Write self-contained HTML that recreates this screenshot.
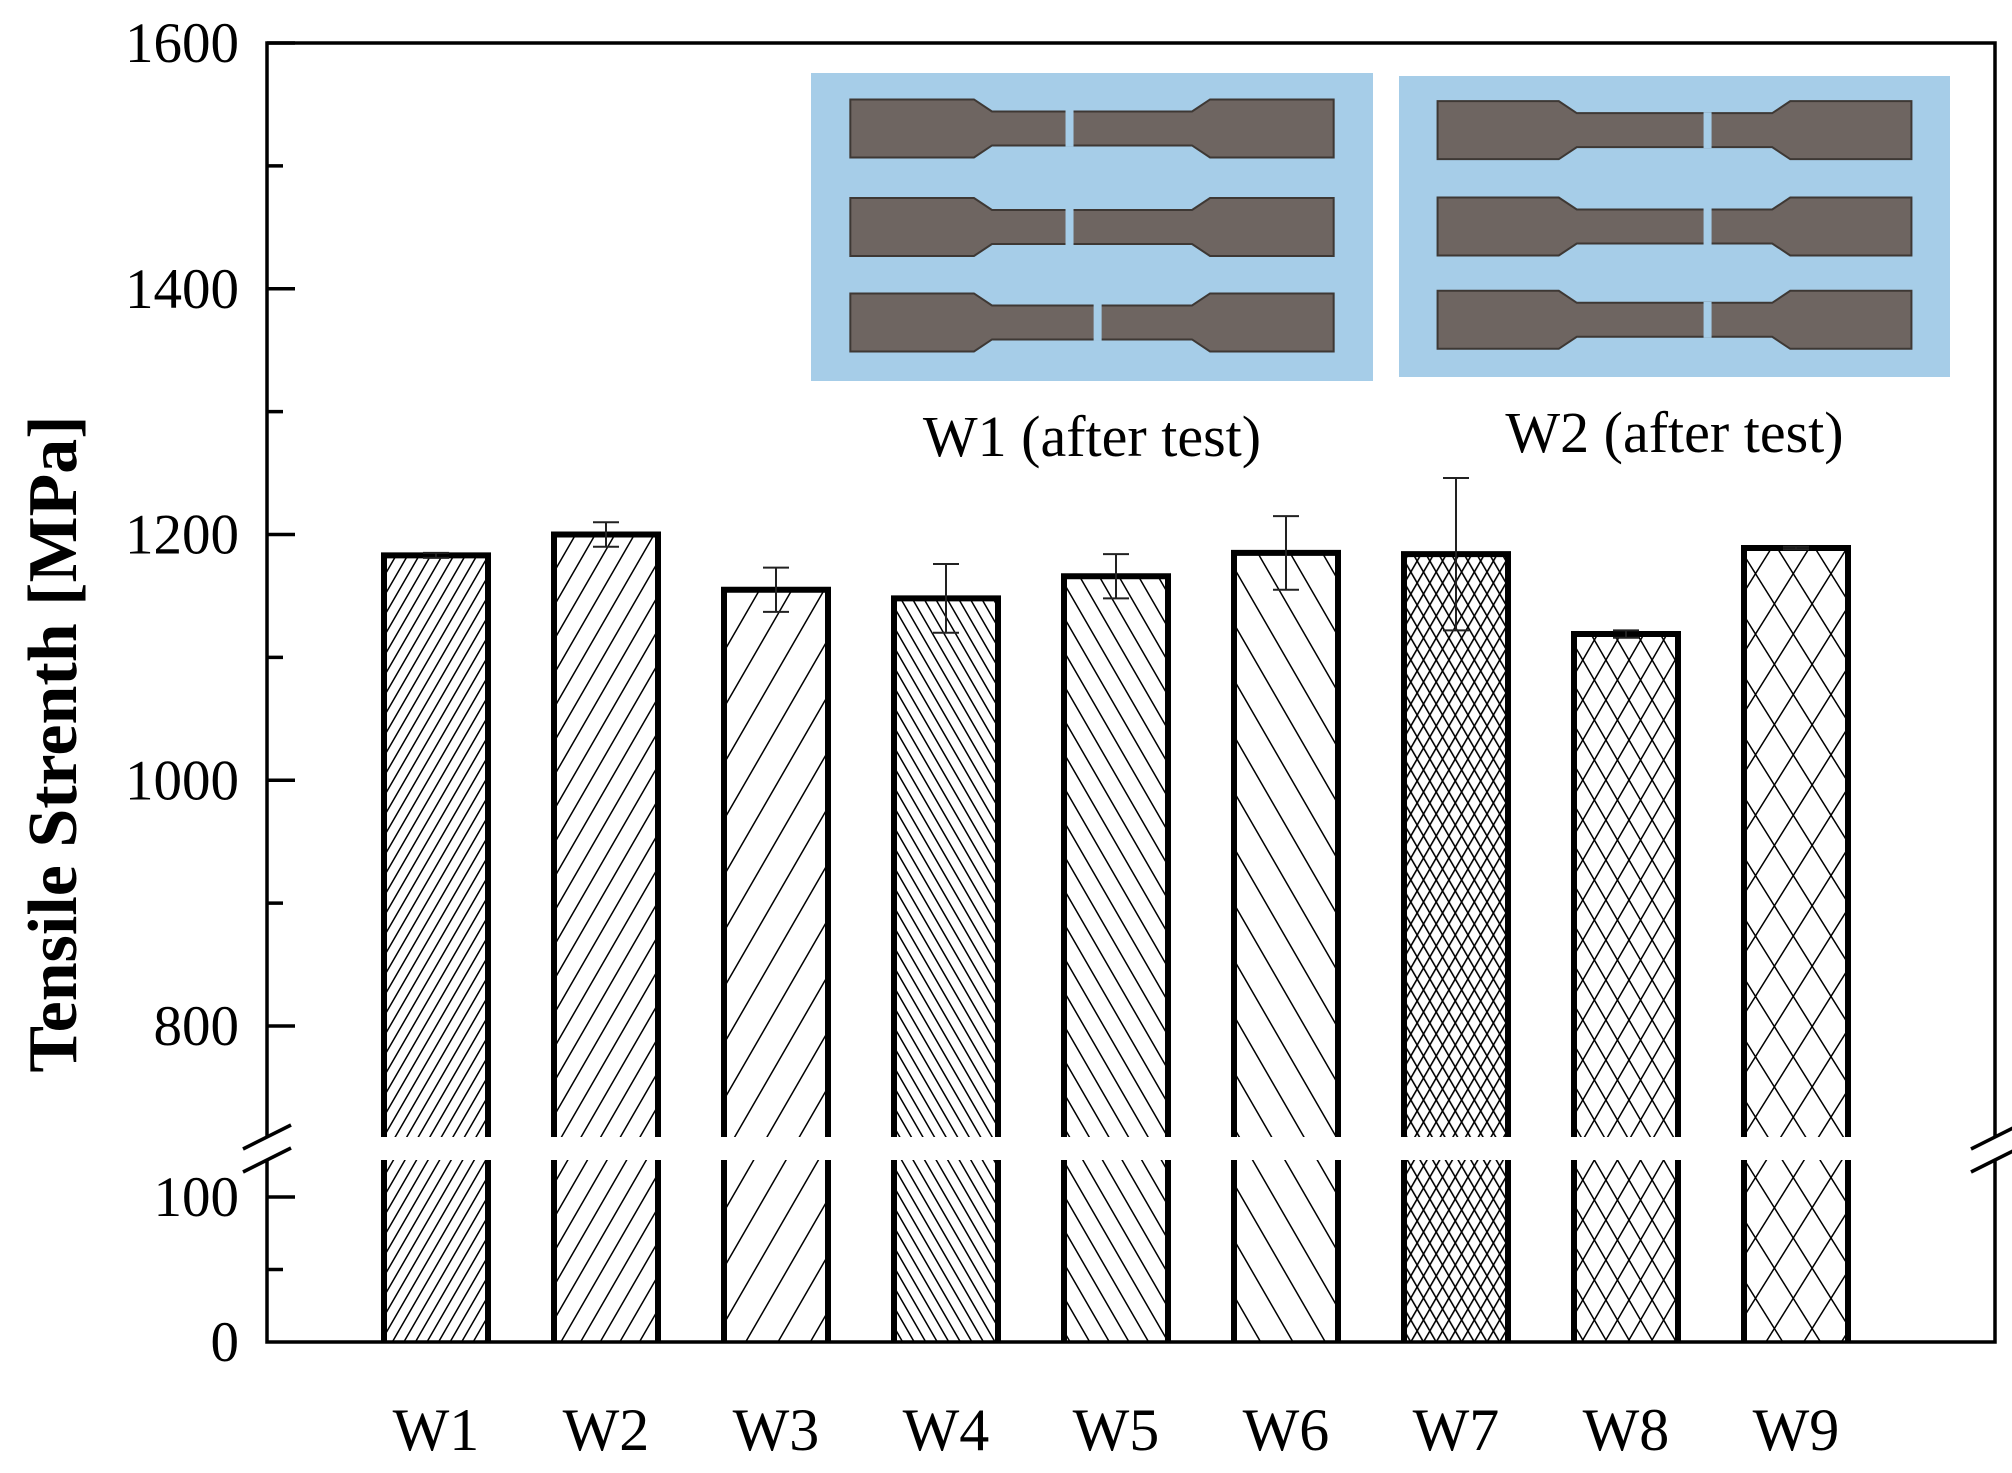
<!DOCTYPE html>
<html><head><meta charset="utf-8"><style>
html,body{margin:0;padding:0;background:#fff;}
svg{display:block;font-family:"Liberation Serif",serif;}
</style></head><body>
<svg id="chart" width="2012" height="1473" viewBox="0 0 2012 1473" xmlns="http://www.w3.org/2000/svg">
<defs>
  <pattern id="p1" patternUnits="userSpaceOnUse" width="10" height="10" patternTransform="rotate(30)"><line x1="0" y1="0" x2="0" y2="10" stroke="#000" stroke-width="3"/></pattern>
  <pattern id="p2" patternUnits="userSpaceOnUse" width="17" height="17" patternTransform="rotate(30)"><line x1="0" y1="0" x2="0" y2="17" stroke="#000" stroke-width="3"/></pattern>
  <pattern id="p3" patternUnits="userSpaceOnUse" width="28" height="28" patternTransform="rotate(30)"><line x1="0" y1="0" x2="0" y2="28" stroke="#000" stroke-width="3"/></pattern>
  <pattern id="p4" patternUnits="userSpaceOnUse" width="10" height="10" patternTransform="rotate(-30)"><line x1="0" y1="0" x2="0" y2="10" stroke="#000" stroke-width="3"/></pattern>
  <pattern id="p5" patternUnits="userSpaceOnUse" width="17" height="17" patternTransform="rotate(-30)"><line x1="0" y1="0" x2="0" y2="17" stroke="#000" stroke-width="3"/></pattern>
  <pattern id="p6" patternUnits="userSpaceOnUse" width="28" height="28" patternTransform="rotate(-30)"><line x1="0" y1="0" x2="0" y2="28" stroke="#000" stroke-width="3"/></pattern>
  <pattern id="p7" patternUnits="userSpaceOnUse" width="11" height="11" patternTransform="rotate(30)"><line x1="0" y1="0" x2="0" y2="11" stroke="#000" stroke-width="3.2"/></pattern>
  <pattern id="p7b" patternUnits="userSpaceOnUse" width="11" height="11" patternTransform="rotate(-30)"><line x1="0" y1="0" x2="0" y2="11" stroke="#000" stroke-width="3.2"/></pattern>
  <pattern id="p8" patternUnits="userSpaceOnUse" width="20" height="20" patternTransform="rotate(30)"><line x1="0" y1="0" x2="0" y2="20" stroke="#000" stroke-width="3"/></pattern>
  <pattern id="p8b" patternUnits="userSpaceOnUse" width="20" height="20" patternTransform="rotate(-30)"><line x1="0" y1="0" x2="0" y2="20" stroke="#000" stroke-width="3"/></pattern>
  <pattern id="p9" patternUnits="userSpaceOnUse" width="32" height="32" patternTransform="rotate(32)"><line x1="0" y1="0" x2="0" y2="32" stroke="#000" stroke-width="3"/></pattern>
  <pattern id="p9b" patternUnits="userSpaceOnUse" width="32" height="32" patternTransform="rotate(-32)"><line x1="0" y1="0" x2="0" y2="32" stroke="#000" stroke-width="3"/></pattern>
</defs>
<g id="photos"></g>
<g id="bars"></g>
<g id="axes"></g>
</svg>
<script>
const categories = ["W1","W2","W3","W4","W5","W6","W7","W8","W9"];
const values = [1183,1200,1155,1148,1166,1185,1184,1119,1189];
const errors = [2,10,18,28,18,30,62,3,1];
const upperTicks = [800,1000,1200,1400,1600];
const lowerTicks = [0,100];
const patterns = [["p1"],["p2"],["p3"],["p4"],["p5"],["p6"],["p7","p7b"],["p8","p8b"],["p9","p9b"]];

const NS="http://www.w3.org/2000/svg";
const X0=267, X1=1995;
function yU(v){return 1026-(v-800)*(1026-43)/800;}
function yL(v){return 1342-v*(1342-1197)/100;}
const upperBottom=1137, lowerTop=1160;
function xC(i){return 436+i*170;}
const BW=104;
function mk(tag,attrs,parent){const e=document.createElementNS(NS,tag);for(const k in attrs)e.setAttribute(k,attrs[k]);parent.appendChild(e);return e;}

const bars=document.getElementById('bars');
categories.forEach((c,i)=>{
  const g=mk('g',{},bars);
  
  
  const x=xC(i)-BW/2, top=yU(values[i]);
  patterns[i].forEach(p=>{
    mk('rect',{x:x,y:top,width:BW,height:upperBottom-top,fill:'url(#'+p+')'},g);
    mk('rect',{x:x,y:lowerTop,width:BW,height:1342-lowerTop,fill:'url(#'+p+')'},g);
  });
  mk('path',{d:`M${x},${upperBottom}V${top}H${x+BW}V${upperBottom}`,fill:'none',stroke:'#000','stroke-width':6},g);
  mk('path',{d:`M${x},${lowerTop}V1342M${x+BW},${lowerTop}V1342`,fill:'none',stroke:'#000','stroke-width':6},g);
  const eb=mk('g',{},g);
  
  
  const cx=xC(i), yt=yU(values[i]+errors[i]), yb=yU(values[i]-errors[i]);
  mk('path',{d:`M${cx},${yt}V${yb}M${cx-13},${yt}H${cx+13}M${cx-13},${yb}H${cx+13}`,stroke:'#222','stroke-width':2,fill:'none'},eb);
  const t=mk('text',{x:cx,y:1450,'text-anchor':'middle','font-size':60},g);
  t.textContent=c;
  
  
});

const ax=document.getElementById('axes');
mk('path',{d:`M${X0},${upperBottom}V43H${X1}V${upperBottom}`,fill:'none',stroke:'#000','stroke-width':3.5},ax);
mk('path',{d:`M${X0},${lowerTop}V1342H${X1}V${lowerTop}`,fill:'none',stroke:'#000','stroke-width':3.5},ax);
[[X0,upperBottom],[X0,lowerTop],[X1,upperBottom],[X1,lowerTop]].forEach(([x,y])=>{
  const b=mk('line',{x1:x-24,y1:y+12,x2:x+24,y2:y-12,stroke:'#000','stroke-width':3.5},ax);
  
  
});
upperTicks.forEach(v=>{
  const y=yU(v);
  mk('line',{x1:X0,y1:y,x2:X0+28,y2:y,stroke:'#000','stroke-width':3.5},ax);
  if(v<1600) mk('line',{x1:X0,y1:yU(v+100),x2:X0+16,y2:yU(v+100),stroke:'#000','stroke-width':3.5},ax);
  const t=mk('text',{x:X0-28,y:y+19,'text-anchor':'end','font-size':57},ax);
  t.textContent=v;
  
  
});
lowerTicks.forEach(v=>{
  const y=yL(v);
  if(v>0) mk('line',{x1:X0,y1:y,x2:X0+28,y2:y,stroke:'#000','stroke-width':3.5},ax);
  const t=mk('text',{x:X0-28,y:y+19,'text-anchor':'end','font-size':57},ax);
  t.textContent=v;
  
  
});
mk('line',{x1:X0,y1:yL(50),x2:X0+16,y2:yL(50),stroke:'#000','stroke-width':3.5},ax);
const yt=mk('text',{x:0,y:0,'text-anchor':'middle','font-size':70,'font-weight':'bold',transform:'translate(76,744) rotate(-90)'},ax);
yt.textContent='Tensile Strenth [MPa]';



const ph=document.getElementById('photos');
function photo(x,y,w,h,label,name,broken){
  const g=mk('g',{},ph);
  
  
  mk('rect',{x:x,y:y,width:w,height:h,fill:'#a6cde8'},g);
  const rows=[0.18,0.5,0.81];
  rows.forEach((r,k)=>{
    const cy=y+h*r, gx0=x+w*0.07, gx1=x+w*0.29, nx1=x+w*0.71, gx2=x+w*0.93;
    const gh=29, nh=17;
    mk('path',{d:`M${gx0},${cy-gh}H${gx1}L${gx1+18},${cy-nh}H${nx1-18}L${nx1},${cy-gh}H${gx2}V${cy+gh}H${nx1}L${nx1-18},${cy+nh}H${gx1+18}L${gx1},${cy+gh}H${gx0}Z`,fill:'#6e6561',stroke:'#3e3834','stroke-width':2},g);
    const bx=x+w*broken[k];
    mk('rect',{x:bx-4,y:cy-nh-1,width:8,height:2*nh+2,fill:'#a6cde8'},g);
  });
  const t=mk('text',{x:x+w/2,y:y+h+75,'text-anchor':'middle','font-size':58},ph);
  t.textContent=label;
  
  
}
photo(811,73,562,308,'W1 (after test)','photo-w1-after-test',[0.46,0.46,0.51]);
photo(1399,76,551,301,'W2 (after test)','photo-w2-after-test',[0.56,0.56,0.56]);
</script>
</body></html>
